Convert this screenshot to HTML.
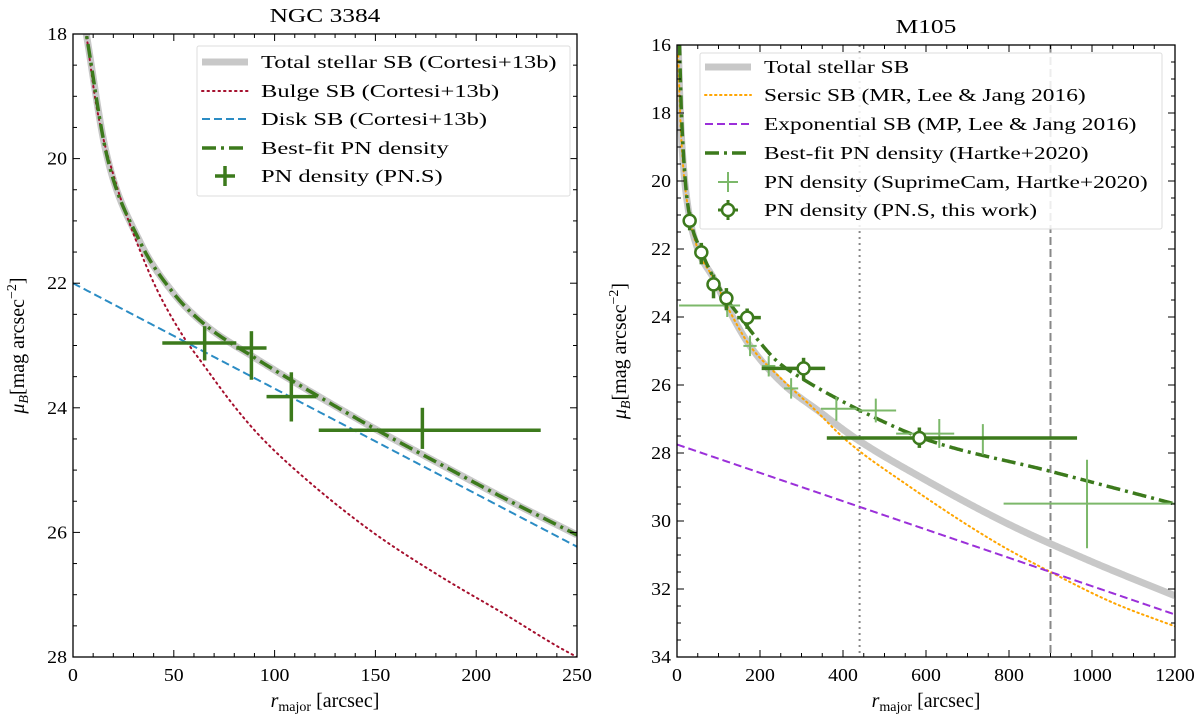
<!DOCTYPE html>
<html><head><meta charset="utf-8"><style>
body{margin:0;background:#fff;}
svg{display:block;font-family:"Liberation Serif","DejaVu Serif",serif;}
</style></head><body>
<svg id="c" width="1200" height="725" viewBox="0 0 1200 725" xmlns="http://www.w3.org/2000/svg"></svg>
<script>
// ---------- Left panel data (NGC 3384) ----------
const bulgeR  = [6.6,11.6,21.5,29.8,41.3,54.6,64.5,79.4,92.6,115.7,148.8,181.9,215,241.4,250];
const bulgeMu = [18,19.15,20.42,21.19,22.08,22.85,23.3,23.95,24.45,25.15,26.0,26.7,27.33,27.85,28.0];
const totLR   = [6.6,16.5,33,49.6,66,89.3,115.7,148.8,181.9,215,250];
const totLMu  = [18,19.91,21.32,22.15,22.68,23.18,23.7,24.32,24.9,25.47,26.04];
const diskMu0 = 22.0;
const diskMu250 = 26.23;
const pnLR   = [65.3,88.5,108.3,173.3];
const pnLMu  = [22.96,23.04,23.82,24.36];
const pnLXlo = [44.3,81,96,121.9];
const pnLXhi = [81,96,120.7,232];
const pnLYlo = [22.69,22.77,23.43,24.0];
const pnLYhi = [23.24,23.55,24.22,24.66];
// ---------- Right panel data (M105) ----------
const totR  = [3,8,15,28,50,88,130,173,250,345,434,600,800,1000,1200];
const totMu = [16,18,19.5,20.9,22.0,22.86,23.9,24.8,25.9,26.8,27.6,28.8,30.1,31.2,32.2];
const serR  = [3,8,15,28,50,88,130,173,250,330,410,550,764,900,1050,1200];
const serMu = [16.3,18.2,19.6,20.9,22.0,22.86,23.9,24.8,25.8,26.7,27.65,28.9,30.6,31.5,32.4,33.1];
const expMu0 = 27.75;
const expMu1200 = 32.75;
const fitR  = [6,10,20,30,60,100,161,200,241,300,450,600,897,1200];
const fitMu = [16,17.8,20,21,22.1,23.1,24.14,24.75,25.3,25.8,26.8,27.6,28.53,29.5];
const pnsR  = [30.5,58.6,88,119,169,305,584];
const pnsMu = [21.17,22.1,23.04,23.45,24.02,25.51,27.56];
const pnsXlo= [24,50,78,108,145,204,361];
const pnsXhi= [38,68,98,130,202,357,964];
const pnsYlo= [20.92,21.82,22.75,23.15,23.75,25.2,27.25];
const pnsYhi= [21.45,22.45,23.45,23.8,24.35,25.85,27.85];
const scR  = [121,176,221,275,384,479,632,737,988];
const scMu = [23.66,24.85,25.44,26.1,26.7,26.75,27.43,27.58,29.49];
const scXlo= [5,160,205,258,347,438,528,730,787];
const scXhi= [152,192,237,292,434,528,668,744,1200];
const scYlo= [23.3,24.55,25.15,25.8,26.35,26.4,27.0,27.15,28.2];
const scYhi= [24.0,25.15,25.75,26.4,27.05,27.1,27.85,28.05,30.8];
const vlines = [440,900];

const NS="http://www.w3.org/2000/svg";
const svg=document.getElementById('c');
function el(tag,attrs,parent){const e=document.createElementNS(NS,tag);for(const k in attrs)e.setAttribute(k,attrs[k]);(parent||svg).appendChild(e);return e;}
function spline(xs,ys){
  const n=xs.length,d=[],m=[];
  for(let i=0;i<n-1;i++)d.push((ys[i+1]-ys[i])/(xs[i+1]-xs[i]));
  m[0]=d[0];m[n-1]=d[n-2];
  for(let i=1;i<n-1;i++){m[i]=(d[i-1]*d[i]<=0)?0:(d[i-1]+d[i])/2;}
  for(let i=0;i<n-1;i++){if(d[i]===0){m[i]=m[i+1]=0;continue;}const a=m[i]/d[i],b=m[i+1]/d[i],s=a*a+b*b;if(s>9){const t=3/Math.sqrt(s);m[i]=t*a*d[i];m[i+1]=t*b*d[i];}}
  return x=>{
    if(x<=xs[0])return ys[0]+m[0]*(x-xs[0]);
    if(x>=xs[n-1])return ys[n-1]+m[n-1]*(x-xs[n-1]);
    let i=0;while(x>xs[i+1])i++;
    const h=xs[i+1]-xs[i],t=(x-xs[i])/h,t2=t*t,t3=t2*t;
    return (2*t3-3*t2+1)*ys[i]+(t3-2*t2+t)*h*m[i]+(-2*t3+3*t2)*ys[i+1]+(t3-t2)*h*m[i+1];
  };
}
function pathFrom(pts){return pts.map((p,i)=>(i?'L':'M')+p[0].toFixed(2)+','+p[1].toFixed(2)).join('');}
function stretch(t,k){const w=t.getComputedTextLength();if(w>0){t.setAttribute('textLength',(w*k).toFixed(1));t.setAttribute('lengthAdjust','spacingAndGlyphs');}}

function panel(o){
  const g=el('g',{});
  
  
  const X=v=>o.x0+(v-o.xmin)/(o.xmax-o.xmin)*(o.x1-o.x0);
  const Y=v=>o.y0+(v-o.ymin)/(o.ymax-o.ymin)*(o.y1-o.y0);
  const cp='clip'+o.name;
  const cpe=el('clipPath',{id:cp},g);el('rect',{x:o.x0,y:o.y0,width:o.x1-o.x0,height:o.y1-o.y0},cpe);
  const plot=el('g',{'clip-path':`url(#${cp})`},g);
  
  
  return {g,X,Y,plot};
}
function axes(P,o){
  const {g,X,Y}=P;
  for(let v=o.xmin;v<=o.xmax+1e-9;v+=o.xminor){const maj=Math.abs(v/o.xmajor-Math.round(v/o.xmajor))<1e-6;const L=maj?7:4;
    el('line',{x1:X(v),x2:X(v),y1:o.y1,y2:o.y1-L,stroke:'#000','stroke-width':1},g);
    el('line',{x1:X(v),x2:X(v),y1:o.y0,y2:o.y0+L,stroke:'#000','stroke-width':1},g);
    if(maj){const t=el('text',{x:X(v),y:o.y1+24,'text-anchor':'middle','font-size':18},g);t.textContent=Math.round(v);
      
      stretch(t,1.1);}}
  for(let v=o.ymin;v<=o.ymax+1e-9;v+=o.yminor){const maj=Math.abs(v/o.ymajor-Math.round(v/o.ymajor))<1e-6;const L=maj?7:4;
    el('line',{y1:Y(v),y2:Y(v),x1:o.x0,x2:o.x0+L,stroke:'#000','stroke-width':1},g);
    el('line',{y1:Y(v),y2:Y(v),x1:o.x1,x2:o.x1-L,stroke:'#000','stroke-width':1},g);
    if(maj){const t=el('text',{x:o.x0-6,y:Y(v)+6,'text-anchor':'end','font-size':18},g);t.textContent=Math.round(v);
      
      stretch(t,1.1);}}
  el('rect',{x:o.x0,y:o.y0,width:o.x1-o.x0,height:o.y1-o.y0,fill:'none',stroke:'#000','stroke-width':1.3},g);
  const tt=el('text',{x:(o.x0+o.x1)/2,y:o.y0-12,'text-anchor':'middle','font-size':20},g);tt.textContent=o.title;
  
  stretch(tt,1.27);
  const xl=el('text',{x:(o.x0+o.x1)/2,y:o.y1+50,'text-anchor':'middle','font-size':20},g);
  xl.innerHTML='<tspan font-style="italic">r</tspan><tspan font-size="14" dy="4">major</tspan><tspan dy="-4"> [arcsec]</tspan>';
  
  
  const yl=el('text',{transform:`translate(${o.ylx},${(o.y0+o.y1)/2}) rotate(-90)`,'text-anchor':'middle','font-size':20},g);
  yl.innerHTML='<tspan font-style="italic">μ</tspan><tspan font-size="14" dy="4" font-style="italic">B</tspan><tspan dy="-4">[mag arcsec</tspan><tspan font-size="14" dy="-8">−2</tspan><tspan dy="8">]</tspan>';
  
  
}
function curve(P,f,a,b,attrs,name){const pts=[];for(let i=0;i<=400;i++){const r=a+(b-a)*i/400;pts.push([P.X(r),P.Y(f(r))]);}
  const p=el('path',Object.assign({d:pathFrom(pts),fill:'none'},attrs),P.plot);
  
  return p;}
function errbar(P,parent,r,mu,xlo,xhi,ylo,yhi,color,w,name){
  const g=el('g',{},parent);
  
  
  el('line',{x1:P.X(xlo),x2:P.X(xhi),y1:P.Y(mu),y2:P.Y(mu),stroke:color,'stroke-width':w},g);
  el('line',{x1:P.X(r),x2:P.X(r),y1:P.Y(ylo),y2:P.Y(yhi),stroke:color,'stroke-width':w},g);
  return g;
}

// ---------- LEFT ----------
const oL={name:'ngc3384-panel',x0:73,x1:577,y0:34,y1:657,xmin:0,xmax:250,ymin:18,ymax:28,xmajor:50,xminor:10,ymajor:2,yminor:0.5,title:'NGC 3384',ylx:24};
const PL=panel(oL);
const bulge=spline(bulgeR,bulgeMu);
const disk=r=>diskMu0+(diskMu250-diskMu0)*r/250;
const totalL=spline(totLR,totLMu);
curve(PL,totalL,3,250,{stroke:'#c8c8c8','stroke-width':7},'total-stellar-sb-line');
curve(PL,bulge,3,250,{stroke:'#a50f2d','stroke-width':2,'stroke-dasharray':'1.5 4','stroke-linecap':'round'},'bulge-sb-line');
curve(PL,disk,0,250,{stroke:'#2b8cc4','stroke-width':2,'stroke-dasharray':'8 4'},'disk-sb-line');
curve(PL,totalL,3,250,{stroke:'#3c7a1c','stroke-width':3.5,'stroke-dasharray':'14 5 3 5'},'best-fit-pn-line');
for(let i=0;i<pnLR.length;i++) errbar(PL,PL.plot,pnLR[i],pnLMu[i],pnLXlo[i],pnLXhi[i],pnLYlo[i],pnLYhi[i],'#3c7a1c',3.5,'pn-density-point');
axes(PL,oL);

// ---------- RIGHT ----------
const oR={name:'m105-panel',x0:677,x1:1175,y0:45,y1:657,xmin:0,xmax:1200,ymin:16,ymax:34,xmajor:200,xminor:50,ymajor:2,yminor:0.5,title:'M105',ylx:626};
const PR=panel(oR);
vlines.forEach((v,i)=>{const l=el('line',{x1:PR.X(v),x2:PR.X(v),y1:oR.y0,y2:oR.y1,stroke:'#888','stroke-width':2,'stroke-dasharray':i?'8 4':'2 4'},PR.plot);
  
  });
curve(PR,spline(totR,totMu),3,1200,{stroke:'#c8c8c8','stroke-width':7},'total-stellar-sb-line');
curve(PR,spline(serR,serMu),3,1200,{stroke:'#ffa500','stroke-width':2,'stroke-dasharray':'1.5 3.5','stroke-linecap':'round'},'sersic-sb-line');
curve(PR,r=>expMu0+(expMu1200-expMu0)*r/1200,0,1200,{stroke:'#9b30d9','stroke-width':2,'stroke-dasharray':'8 4'},'exponential-sb-line');
curve(PR,spline(fitR,fitMu),4,1200,{stroke:'#3c7a1c','stroke-width':3.5,'stroke-dasharray':'14 5 3 5'},'best-fit-pn-line');
for(let i=0;i<scR.length;i++) errbar(PR,PR.plot,scR[i],scMu[i],scXlo[i],scXhi[i],scYlo[i],scYhi[i],'#7cb86a',2,'suprimecam-pn-point');
for(let i=0;i<pnsR.length;i++){const g=errbar(PR,PR.plot,pnsR[i],pnsMu[i],pnsXlo[i],pnsXhi[i],pnsYlo[i],pnsYhi[i],'#3c7a1c',3.5,'pns-pn-point');
  el('circle',{cx:PR.X(pnsR[i]),cy:PR.Y(pnsMu[i]),r:6,fill:'#fff',stroke:'#3c7a1c','stroke-width':2.5},g);}
axes(PR,oR);

// ---------- legends ----------
function legend(x,y,w,h,items,name,k){
  const g=el('g',{});
  
  
  el('rect',{x,y,width:w,height:h,fill:'#fff','fill-opacity':0.85,stroke:'#ddd','stroke-width':1,rx:2},g);
  items.forEach((it,i)=>{const cy=it.y;const e=el('g',{},g);
    
    
    if(it.type==='line') el('line',{x1:x+5,x2:x+51,y1:cy,y2:cy,stroke:it.c,'stroke-width':it.w,'stroke-dasharray':it.d||'','stroke-linecap':it.cap||'butt'},e);
    else {el('line',{x1:x+18,x2:x+38,y1:cy,y2:cy,stroke:it.c,'stroke-width':it.w},e);el('line',{x1:x+28,x2:x+28,y1:cy-10,y2:cy+10,stroke:it.c,'stroke-width':it.w},e);
      if(it.type==='circ') el('circle',{cx:x+28,cy,r:6,fill:'#fff',stroke:it.c,'stroke-width':2.5},e);}
    const t=el('text',{x:x+64,y:cy+6,'font-size':18},e);t.textContent=it.t;stretch(t,k);});
}
legend(197,46,373,150,[
 {type:'line',c:'#c8c8c8',w:7,y:62,t:'Total stellar SB (Cortesi+13b)'},
 {type:'line',c:'#a50f2d',w:2,d:'1.5 4',cap:'round',y:91,t:'Bulge SB (Cortesi+13b)'},
 {type:'line',c:'#2b8cc4',w:2,d:'8 4',y:119,t:'Disk SB (Cortesi+13b)'},
 {type:'line',c:'#3c7a1c',w:3.5,d:'14 5 3 5',y:148,t:'Best-fit PN density'},
 {type:'err',c:'#3c7a1c',w:3.5,y:176,t:'PN density (PN.S)'}],'left-legend',1.36);
legend(700,53,462,176,[
 {type:'line',c:'#c8c8c8',w:7,y:67,t:'Total stellar SB'},
 {type:'line',c:'#ffa500',w:2,d:'1.5 3.5',cap:'round',y:95,t:'Sersic SB (MR, Lee & Jang 2016)'},
 {type:'line',c:'#9b30d9',w:2,d:'8 4',y:124,t:'Exponential SB (MP, Lee & Jang 2016)'},
 {type:'line',c:'#3c7a1c',w:3.5,d:'14 5 3 5',y:153,t:'Best-fit PN density (Hartke+2020)'},
 {type:'err',c:'#7cb86a',w:2,y:182,t:'PN density (SuprimeCam, Hartke+2020)'},
 {type:'circ',c:'#3c7a1c',w:3,y:210,t:'PN density (PN.S, this work)'}],'right-legend',1.3);
</script>
</body></html>
